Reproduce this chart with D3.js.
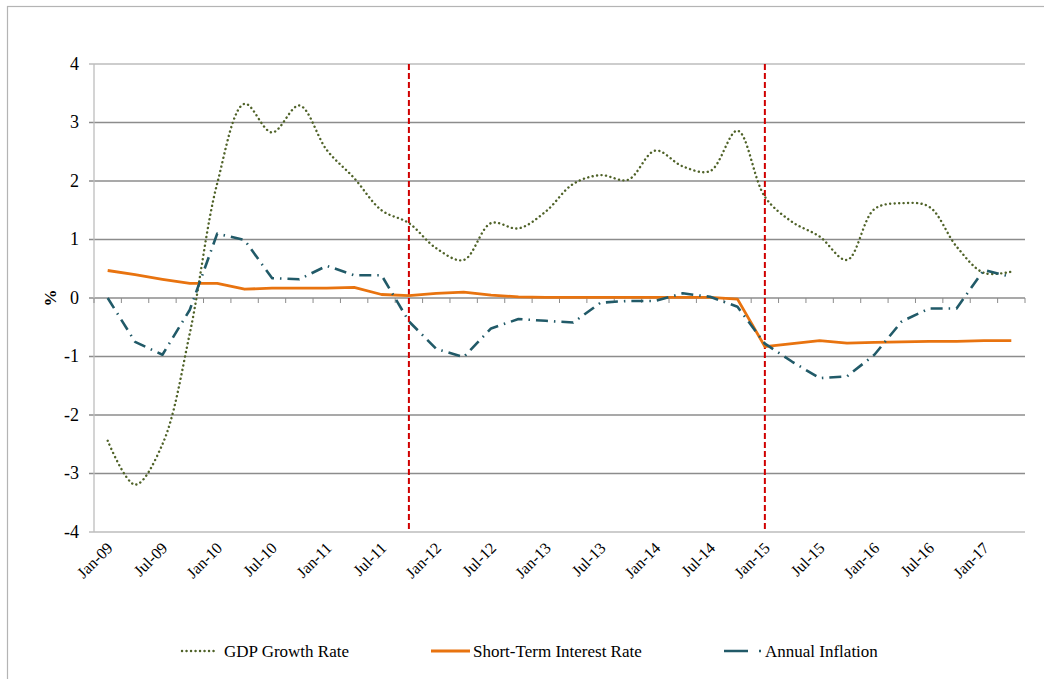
<!DOCTYPE html>
<html>
<head>
<meta charset="utf-8">
<script src="https://cdn.jsdelivr.net/npm/d3@7"></script>
<style>
  body { margin: 0; background: #fff; }
</style>
</head>
<body>
<div id="chart"></div>
<script>
// quarterly categories, Jan-09 .. Apr-17
const months = ['Jan', 'Apr', 'Jul', 'Oct'];
const quarters = [];
for (let y = 9; y <= 17; y++) {
  months.forEach(m => quarters.push(m + '-' + String(y).padStart(2, '0')));
}
quarters.splice(34);

const gdpGrowth = [-2.44, -3.19, -2.5, -0.6, 1.96, 3.32, 2.83, 3.29, 2.53, 2.05, 1.5, 1.28,
  0.85, 0.65, 1.28, 1.19, 1.48, 1.95, 2.1, 2.02, 2.52, 2.25, 2.17, 2.86,
  1.73, 1.3, 1.05, 0.65, 1.52, 1.62, 1.56, 0.88, 0.43, 0.45];

const interestRate = [0.47, 0.4, 0.32, 0.25, 0.25, 0.15, 0.17, 0.17, 0.17, 0.18, 0.06, 0.04,
  0.08, 0.1, 0.05, 0.02, 0.01, 0.01, 0.01, 0.01, 0.01, 0.01, 0.01, -0.02,
  -0.83, -0.78, -0.73, -0.77, -0.76, -0.75, -0.74, -0.74, -0.73, -0.73];

const inflation = [0.0, -0.75, -0.97, -0.2, 1.1, 0.99, 0.34, 0.32, 0.55, 0.39, 0.39, -0.4,
  -0.87, -1.01, -0.52, -0.36, -0.39, -0.42, -0.08, -0.05, -0.05, 0.08, 0.02, -0.15,
  -0.78, -1.09, -1.37, -1.34, -0.97, -0.4, -0.18, -0.18, 0.48, 0.36];

const yTicks = [-4, -3, -2, -1, 0, 1, 2, 3, 4];
const markerQuarters = ['Oct-11', 'Jan-15'];

const series = [
  { name: 'GDP Growth Rate', values: gdpGrowth, color: '#4f6228', width: 2.4, dash: '0.1,4.4', cap: 'round', curve: d3.curveCatmullRom.alpha(0.5) },
  { name: 'Short-Term Interest Rate', values: interestRate, color: '#e8730f', width: 2.8, dash: null, cap: 'butt', curve: d3.curveLinear },
  { name: 'Annual Inflation', values: inflation, color: '#215a68', width: 2.6, dash: '12,6,1.5,6', cap: 'butt', curve: d3.curveLinear }
];

const font = '"Liberation Serif", "DejaVu Serif", "Times New Roman", serif';
const width = 1044, height = 679;
const margin = { top: 64, right: 19, bottom: 147, left: 94 };
const plotW = width - margin.left - margin.right;
const plotH = height - margin.top - margin.bottom;

const svg = d3.select('#chart').append('svg')
  .attr('width', width)
  .attr('height', height)
  .attr('font-family', font)
  .style('font-family', font);

// chart area border
svg.append('rect')
  .attr('x', 7.5).attr('y', 6.5)
  .attr('width', width + 20).attr('height', height + 20)
  .attr('fill', 'none')
  .attr('stroke', '#b4b4b4')
  .attr('stroke-width', 1.2);

const g = svg.append('g')
  .attr('transform', `translate(${margin.left},${margin.top})`);

const x = d3.scaleBand()
  .domain(quarters)
  .range([0, plotW])
  .padding(0);

const y = d3.scaleLinear()
  .domain([-4, 4])
  .range([plotH, 0]);

const cx = d => x(d) + x.bandwidth() / 2;

// gridlines
g.append('g')
  .selectAll('line')
  .data(yTicks)
  .join('line')
  .attr('x1', -5)
  .attr('x2', plotW)
  .attr('y1', d => y(d))
  .attr('y2', d => y(d))
  .attr('stroke', d => (d === 4 || d === -4) ? '#bdbdbd' : '#8c8c8c')
  .attr('stroke-width', 1.3);

// y axis line
g.append('line')
  .attr('x1', 0).attr('x2', 0)
  .attr('y1', 0).attr('y2', plotH)
  .attr('stroke', '#bdbdbd')
  .attr('stroke-width', 1.3);

// y tick labels
g.append('g')
  .selectAll('text')
  .data(yTicks)
  .join('text')
  .attr('x', -15)
  .attr('y', d => y(d))
  .attr('dy', '0.33em')
  .attr('text-anchor', 'end')
  .style('font-size', '18px')
  .text(d => d);

// y axis title
svg.append('text')
  .attr('transform', `translate(${56},${margin.top + y(0)}) rotate(-90)`)
  .attr('text-anchor', 'middle')
  .style('font-size', '17px')
  .style('font-weight', 'bold')
  .text('%');

// x axis tick marks on zero line, at category boundaries
const boundaries = quarters.map(q => x(q)).concat([plotW]);
g.append('g')
  .selectAll('line')
  .data(boundaries)
  .join('line')
  .attr('x1', d => d).attr('x2', d => d)
  .attr('y1', y(0)).attr('y2', y(0) + 5)
  .attr('stroke', '#8c8c8c')
  .attr('stroke-width', 1);

// x tick labels, every second quarter
g.append('g')
  .selectAll('text')
  .data(quarters.filter((q, i) => i % 2 === 0))
  .join('text')
  .attr('text-anchor', 'end')
  .attr('transform', d => `translate(${cx(d) + 6},${plotH + 17}) rotate(-45)`)
  .style('font-size', '16px')
  .text(d => d);

// red vertical markers
g.append('g')
  .selectAll('line')
  .data(markerQuarters)
  .join('line')
  .attr('x1', d => cx(d)).attr('x2', d => cx(d))
  .attr('y1', 0).attr('y2', plotH)
  .attr('stroke', '#d00000')
  .attr('stroke-width', 2)
  .attr('stroke-dasharray', '6,3');

// series lines
series.forEach(s => {
  const line = d3.line()
    .x((d, i) => cx(quarters[i]))
    .y(d => y(d))
    .curve(s.curve);
  g.append('path')
    .datum(s.values)
    .attr('fill', 'none')
    .attr('stroke', s.color)
    .attr('stroke-width', s.width)
    .attr('stroke-dasharray', s.dash)
    .attr('stroke-linecap', s.cap)
    .attr('stroke-linejoin', 'round')
    .attr('d', line);
});

// legend
const legendY = 651;
const legendItems = [
  { s: series[0], x0: 182, x1: 218, tx: 224 },
  { s: series[1], x0: 431, x1: 470, tx: 473 },
  { s: series[2], x0: 724, x1: 762, tx: 765 }
];
const legend = svg.append('g');
legendItems.forEach(it => {
  legend.append('line')
    .attr('x1', it.x0).attr('x2', it.x1)
    .attr('y1', legendY).attr('y2', legendY)
    .attr('stroke', it.s.color)
    .attr('stroke-width', it.s.width)
    .attr('stroke-dasharray', it.s === series[2] ? '24,11,2,6' : it.s.dash)
    .attr('stroke-linecap', it.s.cap);
  legend.append('text')
    .attr('x', it.tx)
    .attr('y', legendY)
    .attr('dy', '0.33em')
    .style('font-size', '17px')
    .text(it.s.name);
});
</script>
</body>
</html>
